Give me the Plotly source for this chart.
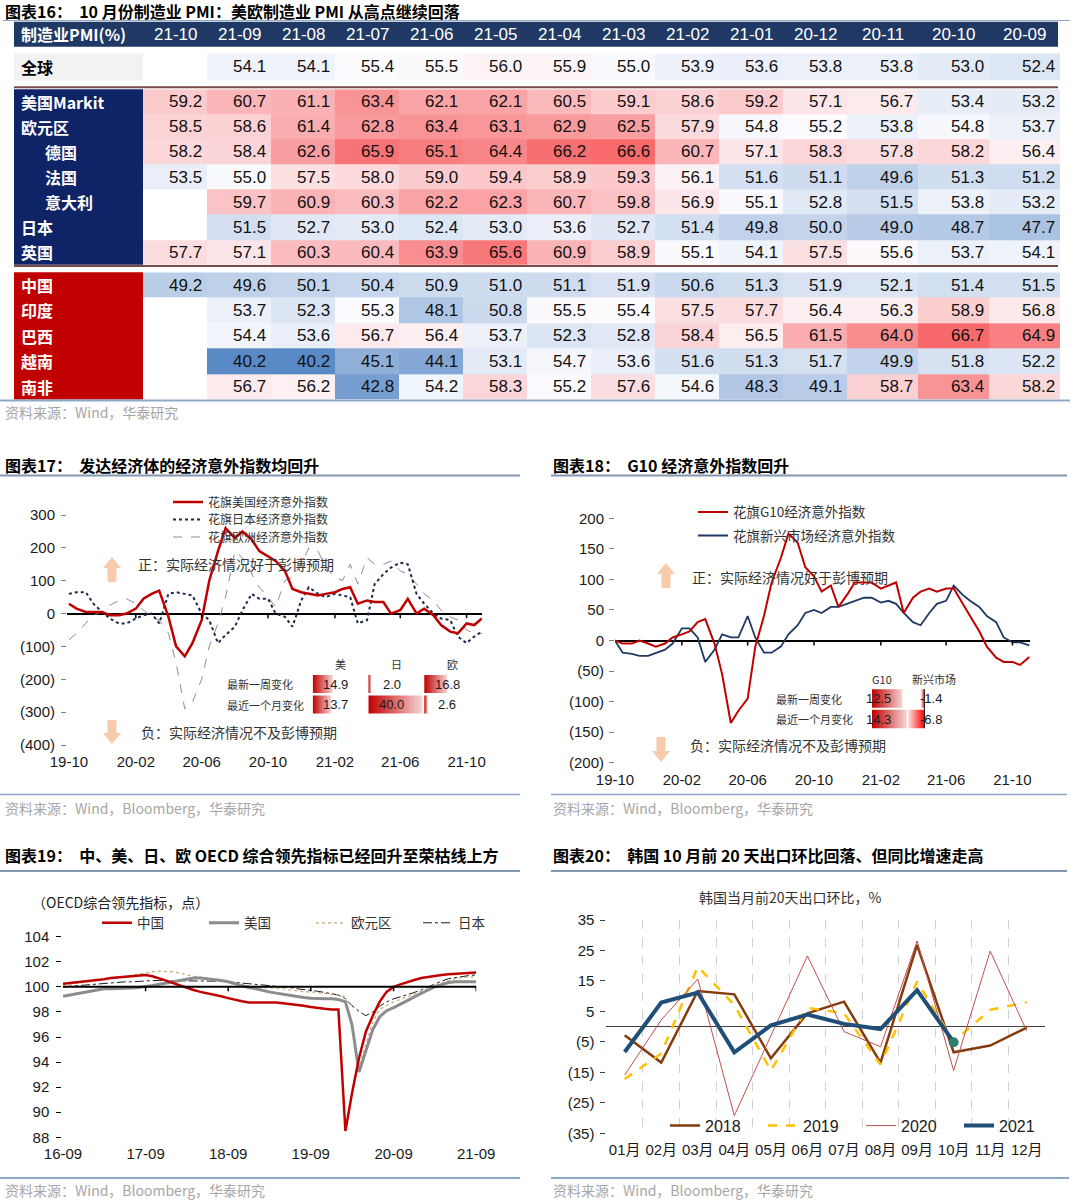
import numpy as np
import pandas as pd
import plotly.graph_objects as go

W, H = 1080, 1201
def px_x(p): return p / W
def px_y(p): return 1 - p / H

NUM = "Liberation Sans, Arial, Noto Sans CJK SC, sans-serif"
CJK = "Noto Sans CJK SC, Liberation Sans, sans-serif"

# ====================== 图表16 data ======================
pmi_months = ["21-10", "21-09", "21-08", "21-07", "21-06", "21-05", "21-04",
              "21-03", "21-02", "21-01", "20-12", "20-11", "20-10", "20-09"]
pmi_global = [None, 54.1, 54.1, 55.4, 55.5, 56.0, 55.9, 55.0, 53.9, 53.6, 53.8, 53.8, 53.0, 52.4]
pmi_us = [59.2, 60.7, 61.1, 63.4, 62.1, 62.1, 60.5, 59.1, 58.6, 59.2, 57.1, 56.7, 53.4, 53.2]
pmi_euro = [58.5, 58.6, 61.4, 62.8, 63.4, 63.1, 62.9, 62.5, 57.9, 54.8, 55.2, 53.8, 54.8, 53.7]
pmi_germany = [58.2, 58.4, 62.6, 65.9, 65.1, 64.4, 66.2, 66.6, 60.7, 57.1, 58.3, 57.8, 58.2, 56.4]
pmi_france = [53.5, 55.0, 57.5, 58.0, 59.0, 59.4, 58.9, 59.3, 56.1, 51.6, 51.1, 49.6, 51.3, 51.2]
pmi_italy = [None, 59.7, 60.9, 60.3, 62.2, 62.3, 60.7, 59.8, 56.9, 55.1, 52.8, 51.5, 53.8, 53.2]
pmi_japan = [None, 51.5, 52.7, 53.0, 52.4, 53.0, 53.6, 52.7, 51.4, 49.8, 50.0, 49.0, 48.7, 47.7]
pmi_uk = [57.7, 57.1, 60.3, 60.4, 63.9, 65.6, 60.9, 58.9, 55.1, 54.1, 57.5, 55.6, 53.7, 54.1]
pmi_china = [49.2, 49.6, 50.1, 50.4, 50.9, 51.0, 51.1, 51.9, 50.6, 51.3, 51.9, 52.1, 51.4, 51.5]
pmi_india = [None, 53.7, 52.3, 55.3, 48.1, 50.8, 55.5, 55.4, 57.5, 57.7, 56.4, 56.3, 58.9, 56.8]
pmi_brazil = [None, 54.4, 53.6, 56.7, 56.4, 53.7, 52.3, 52.8, 58.4, 56.5, 61.5, 64.0, 66.7, 64.9]
pmi_vietnam = [None, 40.2, 40.2, 45.1, 44.1, 53.1, 54.7, 53.6, 51.6, 51.3, 51.7, 49.9, 51.8, 52.2]
pmi_safrica = [None, 56.7, 56.2, 42.8, 54.2, 58.3, 55.2, 57.6, 54.6, 48.3, 49.1, 58.7, 63.4, 58.2]

dev_names = ["美国Markit", "欧元区", "德国", "法国", "意大利", "日本", "英国"]
dev_rows = [pmi_us, pmi_euro, pmi_germany, pmi_france, pmi_italy, pmi_japan, pmi_uk]
indented = {"德国", "法国", "意大利"}
em_names = ["中国", "印度", "巴西", "越南", "南非"]
em_rows = [pmi_china, pmi_india, pmi_brazil, pmi_vietnam, pmi_safrica]

# ====================== 图表17 data (semi-monthly readings) ======================
esi_dates = [d.strftime("%Y-%m-%d") for d in pd.date_range("2019-10-01", "2021-10-15", freq="SMS")] + ["2021-10-29"]
esi_us = [30, 15, 5, 5, 5, -5, -5, 0, 15, 45, 60, 70, -10, -100, -130, -90, -20, 100, 190, 260,
          230, 250, 225, 190, 175, 160, 130, 75, 65, 60, 55, 60, 65, 75, 80, 30, 40, 35, 35, 0,
          10, 45, 0, 15, -5, -35, -55, -60, -30, -35, -15]
esi_jp = [60, 65, 65, 30, 5, -15, -30, -30, -15, -5, 0, -30, 60, 65, 60, 55, 0, -20, -90, -65,
          -40, 10, 60, 45, 45, 0, -10, -40, 40, 80, 60, 50, 60, 55, 50, -30, -20, 90, 120, 140,
          155, 150, 60, 30, 0, -15, -20, -70, -90, -70, -55]
esi_eu = [-80, -60, -30, -5, 5, 25, 40, 45, 30, 10, -10, -20, -60, -150, -290, -270, -200, -100, -30, 50,
          190, 170, 120, 80, 50, 20, 100, 110, 150, 200, 190, 140, 110, 100, 150, 90, 170, 150, 150, 160,
          130, 120, 90, 60, 40, 10, -10, -20, -50, -60, -60]
chg17_cols = ["美", "日", "欧"]
chg17_week = [14.9, 2.0, 16.8]
chg17_month = [13.7, 40.0, 2.6]

# ====================== 图表18 data ======================
esi18_dates = [d.strftime("%Y-%m-%d") for d in pd.date_range("2019-10-01", "2021-10-15", freq="SMS")] + ["2021-11-01"]
esi_g10 = [0, -5, -5, 0, -5, -10, -5, 5, 10, 15, 30, 35, -5, -55, -135, -115, -95, -10, 40, 95,
           135, 175, 160, 120, 105, 80, 90, 55, 75, 95, 95, 95, 85, 90, 95, 45, 70, 80, 85, 80,
           85, 85, 60, 40, 15, -10, -28, -35, -35, -40, -27]
esi_em = [0, -20, -22, -25, -25, -20, -15, -5, 20, 20, 5, -35, -15, 10, 5, 5, 40, 5, -20, -20,
          -10, 10, 25, 45, 50, 45, 55, 55, 60, 65, 70, 70, 62, 65, 60, 45, 30, 25, 45, 60,
          65, 90, 75, 65, 55, 40, 30, 5, -3, -3, -8]
chg18_cols = ["G10", "新兴市场"]
chg18_week = [12.5, -1.4]
chg18_month = [14.3, -6.8]

# ====================== 图表19 data (monthly) ======================
oecd_dates = [d.strftime("%Y-%m-%d") for d in pd.date_range("2016-09-01", "2021-09-01", freq="MS")]
oecd_cn = [100.25, 100.3, 100.4, 100.45, 100.5, 100.55, 100.6, 100.7, 100.75, 100.85, 100.9, 100.95, 100.95,
           100.85, 100.7, 100.5, 100.3, 100.1, 99.9, 99.75, 99.6, 99.5, 99.4, 99.25, 99.1, 98.95, 98.85,
           98.75, 98.75, 98.8, 98.75, 98.75, 98.7, 98.65, 98.55, 98.5, 98.4, 98.3, 98.25, 98.2, 98.2,
           88.5, 91.5, 94.3, 96.4, 97.7, 98.8, 99.6, 100.0, 100.2, 100.4, 100.55, 100.7, 100.8, 100.9,
           100.95, 101.0, 101.05, 101.05, 101.1, 101.15]
oecd_us = [99.25, 99.35, 99.45, 99.55, 99.65, 99.75, 99.85, 99.85, 99.85, 99.85, 99.9, 99.95, 100.0,
           100.1, 100.2, 100.3, 100.45, 100.55, 100.65, 100.7, 100.7, 100.65, 100.6, 100.5, 100.4, 100.25,
           100.1, 99.95, 99.85, 99.7, 99.6, 99.5, 99.4, 99.35, 99.25, 99.15, 99.1, 99.05, 99.05, 99.05,
           99.0, 98.8, 97.0, 93.2, 94.8, 96.6, 97.6, 98.1, 98.35, 98.6, 98.9, 99.2, 99.45, 99.75, 100.0,
           100.2, 100.35, 100.4, 100.4, 100.4, 100.4]
oecd_eu = [100.15, 100.2, 100.3, 100.35, 100.45, 100.5, 100.55, 100.65, 100.75, 100.85, 100.95, 101.0,
           101.1, 101.2, 101.25, 101.25, 101.2, 101.1, 100.95, 100.85, 100.75, 100.7, 100.6, 100.55,
           100.45, 100.3, 100.15, 100.05, 100.0, 99.95, 99.95, 99.9, 99.85, 99.75, 99.7, 99.6, 99.6,
           99.55, 99.45, 99.4, 99.35, 99.2, 96.8, 93.6, 95.3, 97.2, 98.2, 98.5, 98.8, 99.0, 99.2, 99.4,
           99.6, 99.85, 100.1, 100.3, 100.5, 100.65, 100.75, 100.8, 100.8]
oecd_jp = [100.0, 100.05, 100.1, 100.15, 100.2, 100.25, 100.3, 100.35, 100.35, 100.4, 100.4, 100.45,
           100.45, 100.5, 100.5, 100.5, 100.5, 100.5, 100.5, 100.5, 100.5, 100.5, 100.45, 100.45, 100.4,
           100.35, 100.3, 100.3, 100.25, 100.2, 100.15, 100.05, 100.0, 99.95, 99.85, 99.8, 99.75, 99.65,
           99.55, 99.45, 99.35, 99.05, 98.5, 98.05, 97.7, 98.0, 98.45, 98.8, 99.05, 99.2, 99.35, 99.55,
           99.75, 100.0, 100.25, 100.45, 100.65, 100.75, 100.85, 100.9, 100.95]

# ====================== 图表20 data ======================
kr_months = ["01月", "02月", "03月", "04月", "05月", "06月", "07月", "08月", "09月", "10月", "11月", "12月"]
kr_2018 = [-2.8, -11.8, 11.7, 10.6, -10.4, 4.4, 8.2, -11.8, 26.8, -8.4, -6.2, -0.3]
kr_2019 = [-17.2, -8.8, 19.7, 7.1, -14.4, 6.2, 4.4, -12.4, 14.8, -4.9, 5.5, 8.0]
kr_2020 = [-15.9, 2.2, 15.6, -29.2, -3.0, 23.2, -1.6, -6.6, 28.1, -14.4, 24.8, -1.4]
kr_2021 = [-8.3, 7.9, 11.2, -8.4, 0.4, 4.0, 0.9, -0.8, 12.0, -5.1]

# ====================== build figure ======================
fig = go.Figure()
annots = []
shapes = []

def text(t, x, y, size=14, color="#000", xanchor="left", yanchor="middle", family=CJK,
         xref="paper", yref="paper"):
    annots.append(dict(text=t, x=x, y=y, xref=xref, yref=yref, xanchor=xanchor, yanchor=yanchor,
                       showarrow=False, font=dict(size=size, color=color, family=family)))

def hline(x0, x1, y, color, width):
    shapes.append(dict(type="line", xref="paper", yref="paper", x0=px_x(x0), x1=px_x(x1),
                       y0=px_y(y), y1=px_y(y), line=dict(color=color, width=width)))

def rect(x0, x1, y0, y1, color):
    shapes.append(dict(type="rect", xref="paper", yref="paper", x0=px_x(x0), x1=px_x(x1),
                       y0=px_y(y1), y1=px_y(y0), fillcolor=color, line=dict(width=0), layer="below"))

def block_arrow(cx, y_tip, y_end, color="#F8CBAD"):
    d = 1 if y_end > y_tip else -1
    hh, hw, sw = 11, 9, 4.5
    pts = [(cx, y_tip), (cx + hw, y_tip + d * hh), (cx + sw, y_tip + d * hh), (cx + sw, y_end),
           (cx - sw, y_end), (cx - sw, y_tip + d * hh), (cx - hw, y_tip + d * hh)]
    path = "M " + " L ".join(f"{px_x(a):.5f},{px_y(b):.5f}" for a, b in pts) + " Z"
    shapes.append(dict(type="path", path=path, xref="paper", yref="paper", fillcolor=color,
                       line=dict(width=0)))

# ---------- 图表16 table ----------
all_vals = [v for r in [pmi_global] + dev_rows + em_rows for v in r if v is not None]
vmin, vmax, vmed = min(all_vals), max(all_vals), float(np.median(all_vals))
mid = (vmed - vmin) / (vmax - vmin)
pmi_scale = [[0, "#5A8AC6"], [mid, "#FCFCFF"], [1, "#F8696B"]]

col_w = [64] * 11 + [71] * 3
edges = np.concatenate([[0], np.cumsum(col_w)]).tolist()
centers = [(edges[j] + edges[j + 1]) / 2 for j in range(len(col_w))]

text("<b>图表16：  10 月份制造业 PMI：美欧制造业 PMI 从高点继续回落</b>", px_x(3), px_y(11), size=16)
hline(3, 1070, 20.5, "#8EA9C8", 1.2)
rect(14, 1058, 21.7, 46.7, "#1F3864")
text("<b>制造业PMI(%)</b>", px_x(19), px_y(34.5), size=16, color="white")
for j, m in enumerate(pmi_months):
    annots.append(dict(text=m, x=centers[j], y=px_y(34.5), xref="x7", yref="paper", showarrow=False,
                       xanchor="center", yanchor="middle", font=dict(size=17, color="white", family=NUM)))

blocks = [
    (["全球"], [pmi_global], "y7", "yaxis7", 53.3, 80.5, "#F2F2F2", "#000"),
    (dev_names, dev_rows, "y8", "yaxis8", 89.2, 264.8, "#0E2466", "white"),
    (em_names, em_rows, "y9", "yaxis9", 272.3, 399.4, "#C00000", "white"),
]
axis_layout = {}
for names, rows, yref, ykey, top, bot, lab_bg, lab_fg in blocks:
    n = len(rows)
    fig.add_trace(go.Heatmap(z=rows, x=edges, y=list(range(n)), xaxis="x7", yaxis=yref,
                             colorscale=pmi_scale, zmin=vmin, zmax=vmax, showscale=False,
                             hoverinfo="skip"))
    axis_layout[ykey] = dict(domain=[px_y(bot), px_y(top)], range=[n - 0.5, -0.5], visible=False,
                             anchor="x7", fixedrange=True)
    rect(14, 143, top, bot, lab_bg)
    for i, (nm, r) in enumerate(zip(names, rows)):
        xoff = 43 if nm in indented else 19
        annots.append(dict(text=f"<b>{nm}</b>", x=px_x(xoff), y=i, xref="paper", yref=yref,
                           showarrow=False, xanchor="left", yanchor="middle",
                           font=dict(size=16, color=lab_fg, family=CJK)))
        for j, v in enumerate(r):
            if v is None:
                continue
            annots.append(dict(text=f"{v:.1f}", x=edges[j + 1] - 3, y=i, xref="x7", yref=yref,
                               showarrow=False, xanchor="right", yanchor="middle",
                               font=dict(size=17, color="#111", family=NUM)))
hline(14, 1058, 87.3, "#7A4B4B", 2)
hline(14, 1058, 266.0, "#7A4B4B", 2)
hline(0, 1070, 400.5, "#8EA9C8", 2)
text("资料来源：Wind，华泰研究", px_x(3), px_y(412), size=14, color="#A6A6A6")

axis_layout["xaxis7"] = dict(domain=[px_x(143), px_x(143 + edges[-1])], range=[0, edges[-1]],
                             visible=False, anchor="y7", fixedrange=True)

# ---------- 图表17 ----------
text("<b>图表17：  发达经济体的经济意外指数均回升</b>", px_x(3), px_y(465), size=16)
hline(0, 520, 475.5, "#8497B0", 2)
fig.add_trace(go.Scatter(x=esi_dates, y=esi_us, name="花旗美国经济意外指数", mode="lines",
                         line=dict(color="#C00000", width=2.5), xaxis="x", yaxis="y",
                         legend="legend", zorder=3))
fig.add_trace(go.Scatter(x=esi_dates, y=esi_jp, name="花旗日本经济意外指数", mode="lines",
                         line=dict(color="#1B2A4A", width=2, dash="dot"), xaxis="x", yaxis="y",
                         legend="legend5", zorder=2))
fig.add_trace(go.Scatter(x=esi_dates, y=esi_eu, name="花旗欧洲经济意外指数", mode="lines",
                         line=dict(color="#8C8C8C", width=1, dash="dash"), xaxis="x", yaxis="y",
                         legend="legend6", zorder=1))
t0 = pd.Timestamp("2019-10-01")
ppd17 = 397.7 / 731.0
x17_range = [t0 - pd.Timedelta(days=(68.9 - 67) / ppd17), t0 + pd.Timedelta(days=(482 - 68.9) / ppd17)]
ticks17 = ["2019-10-01", "2020-02-01", "2020-06-01", "2020-10-01", "2021-02-01", "2021-06-01", "2021-10-01"]
for tv in ticks17[1:]:
    shapes.append(dict(type="line", xref="x", yref="y", x0=tv, x1=tv, y0=0, y1=-14,
                       line=dict(color="black", width=1.5)))
y17_vals = [-400, -300, -200, -100, 0, 100, 200, 300]
axis_layout["xaxis"] = dict(domain=[px_x(67), px_x(482)], range=[str(x17_range[0]), str(x17_range[1])],
                            type="date", tickvals=ticks17, ticktext=[pd.Timestamp(t).strftime("%y-%m") for t in ticks17],
                            showgrid=False, showline=False, ticks="", anchor="y", fixedrange=True,
                            tickangle=0, ticklabelstandoff=6)
axis_layout["yaxis"] = dict(domain=[px_y(745), px_y(515)], range=[-400, 300], tickvals=y17_vals,
                            ticktext=[f"({-v})" if v < 0 else str(v) for v in y17_vals],
                            showgrid=False, showline=True, linecolor="#7F7F7F", ticks="outside",
                            ticklen=5, tickcolor="#7F7F7F", zeroline=True, zerolinecolor="black",
                            zerolinewidth=2, anchor="x", fixedrange=True, ticklabelstandoff=3)
block_arrow(112, 557, 582)
block_arrow(112, 744, 720)
text("正：实际经济情况好于彭博预期", px_x(136), px_y(564), size=14, color="#333")
text("负：实际经济情况不及彭博预期", px_x(139), px_y(732), size=14, color="#333")

# inset change table 17
ppu17, colpx17 = 1.35, 55.8
bases17 = [j * colpx17 / ppu17 for j in range(3)]
for i, row in enumerate([chg17_week, chg17_month]):
    for j, v in enumerate(row):
        b = bases17[j]
        fig.add_trace(go.Scatter(x=[b, b + v, b + v, b, b], y=[i - 0.44, i - 0.44, i + 0.44, i + 0.44, i - 0.44],
                                 fill="toself", mode="lines", line=dict(width=0),
                                 fillgradient=dict(type="horizontal", colorscale=[[0, "#C00000"], [1, "#F6D5D5"]]),
                                 xaxis="x5", yaxis="y5", showlegend=False, hoverinfo="skip"))
        annots.append(dict(text=f"{v:.1f}", x=b + 23 / ppu17, y=i, xref="x5", yref="y5", showarrow=False,
                           xanchor="center", yanchor="middle", font=dict(size=13, color="#1a1a1a", family=NUM)))
for j, c in enumerate(chg17_cols):
    annots.append(dict(text=c, x=bases17[j] + 28 / ppu17, y=px_y(664), xref="x5", yref="paper",
                       showarrow=False, xanchor="center", yanchor="middle",
                       font=dict(size=11, color="#333", family=CJK)))
for i, lab in enumerate(["最新一周变化", "最近一个月变化"]):
    annots.append(dict(text=lab, x=px_x(225), y=i, xref="paper", yref="y5", showarrow=False,
                       xanchor="left", yanchor="middle", font=dict(size=11, color="#333", family=CJK)))
axis_layout["xaxis5"] = dict(domain=[px_x(312.7), px_x(312.7 + 3 * colpx17)], range=[0, 3 * colpx17 / ppu17],
                             visible=False, anchor="y5", fixedrange=True)
axis_layout["yaxis5"] = dict(domain=[px_y(714.75), px_y(673.75)], range=[1.5, -0.5], visible=False,
                             anchor="x5", fixedrange=True)
hline(0, 520, 794.5, "#8EA9C8", 1.5)
text("资料来源：Wind，Bloomberg，华泰研究", px_x(3), px_y(808), size=14, color="#A6A6A6")

# ---------- 图表18 ----------
text("<b>图表18：  G10 经济意外指数回升</b>", px_x(551), px_y(465), size=16)
hline(551, 1067, 475.5, "#8497B0", 2)
fig.add_trace(go.Scatter(x=esi18_dates, y=esi_g10, name="花旗G10经济意外指数", mode="lines",
                         line=dict(color="#C00000", width=2), xaxis="x2", yaxis="y2", legend="legend2", zorder=2))
fig.add_trace(go.Scatter(x=esi18_dates, y=esi_em, name="花旗新兴市场经济意外指数", mode="lines",
                         line=dict(color="#203864", width=1.8), xaxis="x2", yaxis="y2", legend="legend7", zorder=1))
ppd18 = 0.5437
x18_range = [t0, t0 + pd.Timedelta(days=(1030 - 615) / ppd18)]
for tv in ticks17[1:]:
    shapes.append(dict(type="line", xref="x2", yref="y2", x0=tv, x1=tv, y0=0, y1=-8,
                       line=dict(color="black", width=1.5)))
y18_vals = [-200, -150, -100, -50, 0, 50, 100, 150, 200]
axis_layout["xaxis2"] = dict(domain=[px_x(615), px_x(1030)], range=[str(x18_range[0]), str(x18_range[1])],
                             type="date", tickvals=ticks17, ticktext=[pd.Timestamp(t).strftime("%y-%m") for t in ticks17],
                             showgrid=False, showline=False, ticks="", anchor="y2", fixedrange=True,
                             tickangle=0, ticklabelstandoff=6)
axis_layout["yaxis2"] = dict(domain=[px_y(762.7), px_y(518.3)], range=[-200, 200], tickvals=y18_vals,
                             ticktext=[f"({-v})" if v < 0 else str(v) for v in y18_vals],
                             showgrid=False, showline=True, linecolor="#7F7F7F", ticks="outside",
                             ticklen=5, tickcolor="#7F7F7F", zeroline=True, zerolinecolor="black",
                             zerolinewidth=2, anchor="x2", fixedrange=True, ticklabelstandoff=2)
block_arrow(666, 563, 588)
block_arrow(661, 762, 737)
text("正：实际经济情况好于彭博预期", px_x(690), px_y(577), size=14, color="#333")
text("负：实际经济情况不及彭博预期", px_x(688), px_y(745), size=14, color="#333")

ppu18 = 2.43
bases18 = [0, (924.5 - 872) / ppu18]
for i, row in enumerate([chg18_week, chg18_month]):
    for j, v in enumerate(row):
        b = bases18[j]
        cs = [[0, "#C00000"], [1, "#F6D5D5"]] if v >= 0 else [[0, "#FBE3E3"], [1, "#FF0000"]]
        fig.add_trace(go.Scatter(x=[b, b + v, b + v, b, b], y=[i - 0.45, i - 0.45, i + 0.45, i + 0.45, i - 0.45],
                                 fill="toself", mode="lines", line=dict(width=0),
                                 fillgradient=dict(type="horizontal", colorscale=cs),
                                 xaxis="x6", yaxis="y6", showlegend=False, hoverinfo="skip"))
        annots.append(dict(text=f"{v:.1f}", x=b + 6.5 / ppu18, y=i, xref="x6", yref="y6", showarrow=False,
                           xanchor="center", yanchor="middle", font=dict(size=13, color="#1a1a1a", family=NUM)))
shapes.append(dict(type="line", xref="x6", yref="y6", x0=bases18[1], x1=bases18[1], y0=-0.45, y1=1.45,
                   line=dict(color="#222", width=1)))
for j, c in enumerate(chg18_cols):
    annots.append(dict(text=c, x=bases18[j] + 9.5 / ppu18, y=px_y(679.3), xref="x6", yref="paper",
                       showarrow=False, xanchor="center", yanchor="middle",
                       font=dict(size=11, color="#333", family=CJK)))
for i, lab in enumerate(["最新一周变化", "最近一个月变化"]):
    annots.append(dict(text=lab, x=px_x(773.5), y=i, xref="paper", yref="y6", showarrow=False,
                       xanchor="left", yanchor="middle", font=dict(size=11, color="#333", family=CJK)))
axis_layout["xaxis6"] = dict(domain=[px_x(860), px_x(960)], range=[(860 - 872) / ppu18, (960 - 872) / ppu18],
                             visible=False, anchor="y6", fixedrange=True)
axis_layout["yaxis6"] = dict(domain=[px_y(729.25), px_y(688.25)], range=[1.5, -0.5], visible=False,
                             anchor="x6", fixedrange=True)
hline(551, 1067, 794.5, "#8EA9C8", 1.5)
text("资料来源：Wind，Bloomberg，华泰研究", px_x(551), px_y(808), size=14, color="#A6A6A6")

# ---------- 图表19 ----------
text("<b>图表19：  中、美、日、欧 OECD 综合领先指标已经回升至荣枯线上方</b>", px_x(3), px_y(855), size=16)
hline(0, 520, 871, "#8497B0", 2)
text("（OECD综合领先指标，点）", px_x(30), px_y(902), size=14, color="#222")
fig.add_trace(go.Scatter(x=oecd_dates, y=oecd_cn, name="中国", mode="lines",
                         line=dict(color="#C00000", width=2.5), xaxis="x3", yaxis="y3", legend="legend3", zorder=4))
fig.add_trace(go.Scatter(x=oecd_dates, y=oecd_us, name="美国", mode="lines",
                         line=dict(color="#8C8C8C", width=3), xaxis="x3", yaxis="y3", legend="legend3", zorder=3))
fig.add_trace(go.Scatter(x=oecd_dates, y=oecd_eu, name="欧元区", mode="lines",
                         line=dict(color="#C4AD78", width=1.2, dash="dot"), xaxis="x3", yaxis="y3", legend="legend3", zorder=2))
fig.add_trace(go.Scatter(x=oecd_dates, y=oecd_jp, name="日本", mode="lines",
                         line=dict(color="#1a1a1a", width=1, dash="dashdot"), xaxis="x3", yaxis="y3", legend="legend3", zorder=1))
ticks19 = ["2016-09-01", "2017-09-01", "2018-09-01", "2019-09-01", "2020-09-01", "2021-09-01"]
shapes.append(dict(type="line", xref="x3 domain", yref="y3", x0=0, x1=1, y0=100, y1=100,
                   line=dict(color="black", width=2)))
for tv in ticks19[1:]:
    shapes.append(dict(type="line", xref="x3", yref="y3", x0=tv, x1=tv, y0=100, y1=99.65,
                       line=dict(color="black", width=1.5)))
axis_layout["xaxis3"] = dict(domain=[px_x(63), px_x(476.2)], range=["2016-09-01", "2021-09-01"], type="date",
                             tickvals=ticks19, ticktext=[pd.Timestamp(t).strftime("%y-%m") for t in ticks19],
                             showgrid=False, showline=False, ticks="", anchor="y3", fixedrange=True,
                             tickangle=0, ticklabelstandoff=6)
axis_layout["yaxis3"] = dict(domain=[px_y(1137.3), px_y(936.7)], range=[88, 104], dtick=2, tick0=88,
                             showgrid=False, showline=True, linecolor="black", linewidth=1.5,
                             ticks="outside", ticklen=5, tickcolor="black", zeroline=False,
                             anchor="x3", fixedrange=True, ticklabelstandoff=4)
hline(0, 520, 1178, "#8EA9C8", 2)
text("资料来源：Wind，Bloomberg，华泰研究", px_x(3), px_y(1190), size=14, color="#A6A6A6")

# ---------- 图表20 ----------
text("<b>图表20：  韩国 10 月前 20 天出口环比回落、但同比增速走高</b>", px_x(551), px_y(855), size=16)
hline(551, 1067, 871, "#8497B0", 2)
text("韩国当月前20天出口环比，%", px_x(790), px_y(897), size=14, color="#333", xanchor="center")
fig.add_trace(go.Scatter(x=kr_months, y=kr_2018, name="2018", mode="lines",
                         line=dict(color="#843C0C", width=2.5), xaxis="x4", yaxis="y4", legend="legend4"))
fig.add_trace(go.Scatter(x=kr_months, y=kr_2019, name="2019", mode="lines",
                         line=dict(color="#FFC000", width=2.5, dash="dash"), xaxis="x4", yaxis="y4", legend="legend4"))
fig.add_trace(go.Scatter(x=kr_months, y=kr_2020, name="2020", mode="lines",
                         line=dict(color="#C0504D", width=1), xaxis="x4", yaxis="y4", legend="legend4"))
fig.add_trace(go.Scatter(x=kr_months[:len(kr_2021)], y=kr_2021, name="2021", mode="lines",
                         line=dict(color="#1F4E79", width=4), xaxis="x4", yaxis="y4", legend="legend4"))
fig.add_trace(go.Scatter(x=[kr_months[len(kr_2021) - 1]], y=[kr_2021[-1]], mode="markers",
                         marker=dict(color="#2E7D6E", size=10), xaxis="x4", yaxis="y4",
                         showlegend=False, hoverinfo="skip"))
y20_vals = [-35, -25, -15, -5, 5, 15, 25, 35]
axis_layout["xaxis4"] = dict(domain=[px_x(606.4), px_x(1045)], range=[-0.5, 11.5], type="category",
                             categoryorder="array", categoryarray=kr_months, tickson="boundaries",
                             showgrid=True, gridcolor="#D0D0D0", griddash="dash", gridwidth=1,
                             showline=False, ticks="", anchor="y4", fixedrange=True,
                             tickangle=0, ticklabelstandoff=6)
axis_layout["yaxis4"] = dict(domain=[px_y(1133.3), px_y(920)], range=[-35, 35], tickvals=y20_vals,
                             ticktext=[f"({-v})" if v < 0 else str(v) for v in y20_vals],
                             showgrid=False, showline=True, linecolor="#404040", ticks="outside",
                             ticklen=5, tickcolor="#404040", zeroline=True, zerolinecolor="#404040",
                             zerolinewidth=1, anchor="x4", fixedrange=True, ticklabelstandoff=3)
hline(551, 1069, 1178, "#8EA9C8", 2)
text("资料来源：Wind，Bloomberg，华泰研究", px_x(551), px_y(1190), size=14, color="#A6A6A6")

# ---------- layout ----------
tickfont = dict(family=NUM, size=15, color="#1a1a1a")
for k, v in axis_layout.items():
    v["automargin"] = False
    if "tickfont" not in v:
        v["tickfont"] = tickfont

def leg(x, y, family=CJK, size=13, color="#333", **kw):
    d = dict(x=px_x(x), y=px_y(y), xanchor="left", yanchor="middle", bgcolor="rgba(0,0,0,0)",
             font=dict(family=family, size=size, color=color), itemwidth=30)
    d.update(kw)
    return d

fig.update_layout(
    width=W, height=H, margin=dict(l=0, r=0, t=0, b=0, autoexpand=False),
    paper_bgcolor="white", plot_bgcolor="rgba(0,0,0,0)",
    showlegend=True, annotations=annots, shapes=shapes,
    legend=leg(168, 502, size=12),
    legend5=leg(168, 519.5, size=12),
    legend6=leg(168, 537, size=12),
    legend2=leg(693, 512.3, size=13.5),
    legend7=leg(693, 535.7, size=13.5),
    legend3=leg(97, 923, size=13.5, orientation="h", entrywidth=62, entrywidthmode="pixels"),
    legend4=leg(665, 1125.7, family=NUM, size=16, color="#1a1a1a", orientation="h",
                entrywidth=53, entrywidthmode="pixels"),
    **axis_layout,
)
fig.write_html("out.html", config={"displayModeBar": False},
               post_script="document.body.style.margin='0px';")
